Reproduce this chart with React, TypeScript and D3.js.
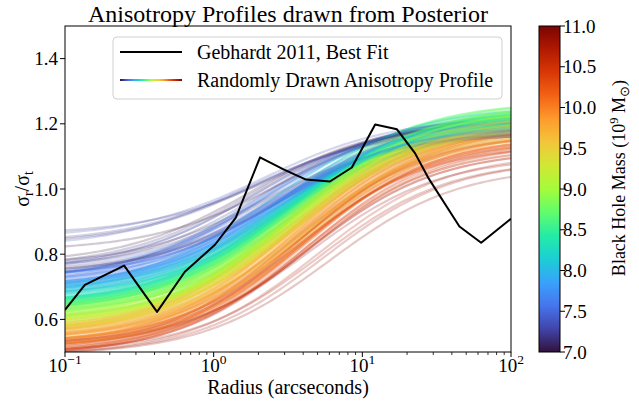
import React from "react";
import * as d3 from "d3";

const FONT = "Liberation Serif";

// Gebhardt 2011 best-fit anisotropy profile
const gebhardtRadius = [0.1, 0.136, 0.25, 0.416, 0.64, 1.02, 1.41, 2.05, 2.95, 4.18, 6.05, 8.5, 12.2, 17.1, 22.6, 27.7, 45, 63, 100];
const gebhardtRatio = [0.629, 0.706, 0.765, 0.623, 0.746, 0.829, 0.912, 1.097, 1.06, 1.029, 1.023, 1.066, 1.198, 1.183, 1.11, 1.035, 0.885, 0.835, 0.909];

// Posterior draws: black-hole mass (1e9 Msun), inner ratio, outer ratio, transition radius (arcsec)
const drawMass = [
  8.9, 7.3, 10.1, 9.4, 8.2, 10.6, 7.7, 9.0, 9.7, 8.5,
  7.1, 9.2, 10.3, 8.7, 7.9, 9.9, 8.1, 10.8, 9.5, 8.6,
  9.1, 7.5, 10.0, 8.4, 9.6, 7.2, 10.4, 8.8, 9.3, 8.0,
  10.2, 8.3, 7.6, 9.8, 8.9, 10.9, 7.4, 9.0, 8.6, 9.5,
  7.0, 9.3, 8.1, 10.5, 9.1, 7.8, 9.7, 8.7, 10.1, 8.4,
  9.6, 7.3, 8.9, 10.7, 8.2, 9.4, 7.6, 10.0, 8.5, 9.2,
  8.8, 10.3, 7.1, 9.0, 8.0, 9.9, 7.9, 10.6, 8.6, 9.4,
  7.4, 9.5, 10.2, 8.3, 9.1, 7.7, 10.8, 8.9, 9.6, 8.1,
  9.3, 8.4, 7.2, 10.4, 8.7, 9.8, 7.5, 9.0, 10.1, 8.6,
  10.0, 7.8, 9.2, 8.5, 10.6, 7.0, 9.7, 8.2, 9.4, 8.9,
  8.7, 9.5, 7.3, 10.3, 8.0, 9.1, 10.9, 7.6, 8.8, 9.9,
  9.0, 7.9, 10.5, 8.4, 9.6, 7.1, 10.2, 8.6, 9.3, 8.3,
  7.7, 9.4, 8.1, 10.7, 9.2, 7.4, 9.8, 8.9, 10.0, 8.5,
  9.1, 10.4, 7.5, 8.8, 9.7, 8.2, 10.1, 7.2, 9.5, 8.7,
  8.0, 9.3, 10.8, 7.8, 8.6, 9.9, 7.0, 9.0, 10.3, 8.4,
  7.1, 7.3, 7.2, 7.0, 7.2, 7.4,
  8.3, 9.5, 7.6, 9.0, 8.8, 10.0, 8.0, 9.3, 7.8, 8.6,
  9.8, 8.5, 9.1, 7.5, 8.9, 9.6, 8.2, 10.2, 8.7, 9.2,
  7.9, 9.4, 8.4, 9.7, 8.1, 9.0, 7.7, 8.8, 9.9, 8.5,
  9.2, 8.6, 10.1, 8.0, 9.5, 7.6, 8.9, 9.3, 8.3, 9.7,
  8.7, 7.8, 9.1, 8.4, 9.8, 8.2, 9.4, 7.5, 8.6, 10.0,
  9.0, 8.1, 9.6, 7.9, 8.8, 9.3, 8.5, 9.9, 7.7, 9.1,
  8.4, 9.5, 8.0, 9.2, 7.6, 8.9, 10.3, 8.3, 9.4, 8.7,
  9.7, 7.8, 8.6, 9.0, 8.2, 9.8, 7.5, 9.3, 8.5, 9.6,
  8.9, 9.1, 7.7, 8.3, 9.4, 8.0, 10.1, 8.7, 9.2, 7.9,
  9.5, 8.4, 9.0, 8.8, 7.6, 9.7, 8.1, 9.9, 8.6, 9.3,
];
const drawInner = [
  0.628, 0.72, 0.521, 0.548, 0.674, 0.528, 0.679, 0.615, 0.529, 0.645,
  0.755, 0.574, 0.513, 0.604, 0.698, 0.556, 0.647, 0.514, 0.545, 0.637,
  0.612, 0.71, 0.525, 0.628, 0.562, 0.75, 0.49, 0.631, 0.561, 0.685,
  0.537, 0.646, 0.712, 0.517, 0.618, 0.522, 0.705, 0.622, 0.617, 0.565,
  0.765, 0.566, 0.672, 0.49, 0.602, 0.721, 0.519, 0.639, 0.506, 0.653,
  0.572, 0.725, 0.608, 0.492, 0.67, 0.593, 0.687, 0.54, 0.625, 0.589,
  0.636, 0.503, 0.745, 0.58, 0.69, 0.55, 0.663, 0.518, 0.617, 0.573,
  0.75, 0.55, 0.517, 0.636, 0.598, 0.729, 0.49, 0.623, 0.537, 0.677,
  0.596, 0.638, 0.74, 0.492, 0.634, 0.562, 0.695, 0.608, 0.51, 0.642,
  0.545, 0.686, 0.584, 0.62, 0.513, 0.77, 0.525, 0.679, 0.553, 0.613,
  0.644, 0.555, 0.73, 0.493, 0.695, 0.617, 0.49, 0.727, 0.601, 0.536,
  0.62, 0.678, 0.505, 0.632, 0.566, 0.76, 0.492, 0.647, 0.57, 0.661,
  0.724, 0.558, 0.668, 0.49, 0.594, 0.755, 0.512, 0.628, 0.51, 0.65,
  0.605, 0.499, 0.72, 0.596, 0.554, 0.689, 0.496, 0.75, 0.548, 0.629,
  0.70, 0.572, 0.499, 0.676, 0.642, 0.56, 0.74, 0.61, 0.498, 0.657,
  0.83, 0.85, 0.86, 0.81, 0.835, 0.82,
  0.666, 0.555, 0.712, 0.59, 0.631, 0.51, 0.685, 0.584, 0.688, 0.644,
  0.547, 0.635, 0.592, 0.71, 0.623, 0.537, 0.669, 0.525, 0.616, 0.596,
  0.698, 0.563, 0.648, 0.534, 0.687, 0.585, 0.709, 0.624, 0.523, 0.652,
  0.594, 0.627, 0.521, 0.67, 0.575, 0.697, 0.613, 0.584, 0.648, 0.556,
  0.634, 0.691, 0.592, 0.638, 0.552, 0.649, 0.573, 0.728, 0.624, 0.537,
  0.61, 0.667, 0.552, 0.678, 0.631, 0.561, 0.645, 0.539, 0.696, 0.604,
  0.658, 0.555, 0.68, 0.574, 0.727, 0.593, 0.518, 0.664, 0.56, 0.636,
  0.554, 0.691, 0.632, 0.59, 0.679, 0.522, 0.725, 0.584, 0.632, 0.564,
  0.618, 0.587, 0.704, 0.646, 0.583, 0.665, 0.526, 0.632, 0.576, 0.70,
  0.57, 0.643, 0.60, 0.606, 0.727, 0.529, 0.677, 0.543, 0.624, 0.588,
];
const drawOuter = [
  1.212, 1.22, 1.182, 1.216, 1.188, 1.14, 1.188, 1.265, 1.179, 1.245,
  1.17, 1.252, 1.162, 1.244, 1.176, 1.218, 1.204, 1.12, 1.165, 1.247,
  1.206, 1.22, 1.19, 1.236, 1.192, 1.21, 1.15, 1.269, 1.179, 1.225,
  1.154, 1.252, 1.194, 1.216, 1.202, 1.10, 1.18, 1.255, 1.197, 1.215,
  1.17, 1.244, 1.214, 1.14, 1.196, 1.222, 1.204, 1.269, 1.147, 1.241,
  1.202, 1.21, 1.232, 1.13, 1.19, 1.226, 1.184, 1.225, 1.195, 1.237,
  1.214, 1.192, 1.19, 1.24, 1.18, 1.22, 1.196, 1.153, 1.197, 1.221,
  1.17, 1.23, 1.174, 1.232, 1.2, 1.218, 1.09, 1.267, 1.187, 1.229,
  1.194, 1.256, 1.19, 1.15, 1.204, 1.226, 1.18, 1.245, 1.16, 1.24,
  1.17, 1.232, 1.222, 1.24, 1.12, 1.21, 1.2, 1.253, 1.171, 1.247,
  1.214, 1.235, 1.19, 1.172, 1.185, 1.246, 1.07, 1.229, 1.199, 1.213,
  1.21, 1.236, 1.14, 1.23, 1.2, 1.21, 1.164, 1.267, 1.19, 1.237,
  1.178, 1.236, 1.22, 1.11, 1.192, 1.21, 1.196, 1.258, 1.155, 1.25,
  1.215, 1.17, 1.19, 1.244, 1.184, 1.238, 1.172, 1.225, 1.175, 1.249,
  1.19, 1.235, 1.09, 1.212, 1.202, 1.23, 1.18, 1.26, 1.127, 1.25,
  1.2, 1.22, 1.21, 1.22, 1.19, 1.18,
  1.232, 1.21, 1.214, 1.21, 1.234, 1.195, 1.195, 1.239, 1.207, 1.227,
  1.206, 1.22, 1.246, 1.17, 1.232, 1.227, 1.203, 1.189, 1.239, 1.217,
  1.216, 1.196, 1.246, 1.184, 1.214, 1.245, 1.183, 1.259, 1.193, 1.225,
  1.232, 1.222, 1.192, 1.19, 1.20, 1.209, 1.217, 1.239, 1.227, 1.199,
  1.244, 1.192, 1.246, 1.206, 1.196, 1.233, 1.191, 1.215, 1.237, 1.175,
  1.24, 1.204, 1.232, 1.186, 1.234, 1.229, 1.215, 1.213, 1.203, 1.221,
  1.236, 1.21, 1.23, 1.202, 1.194, 1.247, 1.137, 1.247, 1.211, 1.229,
  1.214, 1.192, 1.252, 1.21, 1.218, 1.211, 1.175, 1.239, 1.235, 1.207,
  1.242, 1.216, 1.218, 1.202, 1.206, 1.225, 1.157, 1.259, 1.227, 1.201,
  1.23, 1.216, 1.25, 1.214, 1.194, 1.219, 1.199, 1.205, 1.237, 1.209,
];
const drawScale = [
  3.44, 1.97, 3.9, 3.15, 3.26, 3.84, 3.2, 3.33, 4.03, 3.36,
  2.24, 2.98, 4.2, 2.99, 2.99, 2.8, 3.6, 4.4, 4.03, 3.42,
  3.5, 2.04, 3.8, 2.81, 3.85, 1.82, 4.2, 3.21, 4.03, 2.94,
  3.8, 2.58, 2.98, 3.15, 3.78, 4.5, 2.95, 3.1, 3.75, 3.68,
  2.2, 2.98, 3.46, 4.05, 3.85, 2.11, 4.38, 3.15, 3.8, 3.28,
  3.5, 2.1, 4.13, 4.2, 3.4, 2.8, 3.1, 3.42, 3.68, 3.68,
  3.38, 3.4, 2.69, 3.15, 3.08, 2.9, 3.4, 4.0, 3.75, 3.68,
  2.36, 2.98, 4.1, 2.74, 4.0, 2.05, 5.5, 3.27, 4.03, 3.02,
  3.5, 2.65, 2.74, 3.78, 3.65, 2.8, 3.0, 3.6, 4.0, 3.2,
  3.6, 2.24, 4.2, 2.88, 4.4, 1.76, 4.1, 2.81, 4.03, 3.61,
  3.32, 3.2, 2.78, 3.6, 2.9, 2.8, 6.0, 2.36, 3.89, 3.68,
  3.5, 2.31, 4.5, 3.0, 3.6, 1.79, 4.1, 3.1, 4.3, 3.19,
  2.56, 2.98, 3.3, 5.0, 3.85, 1.89, 4.38, 3.5, 4.14, 3.5,
  3.3, 3.57, 2.88, 3.04, 3.85, 2.37, 4.0, 2.17, 4.4, 3.49,
  2.8, 3.2, 5.2, 2.38, 3.59, 3.1, 2.75, 3.8, 4.0, 3.0,
  2.0, 2.2, 2.6, 2.8, 1.9, 1.6,
  3.04, 3.33, 2.6, 3.15, 3.72, 3.6, 2.58, 3.78, 2.56, 3.36,
  3.5, 3.04, 3.68, 2.16, 3.78, 3.5, 2.72, 4.1, 3.22, 3.6,
  2.72, 3.33, 3.28, 3.15, 3.17, 3.5, 2.36, 3.65, 3.4, 3.3,
  3.5, 3.1, 3.89, 2.52, 3.85, 2.48, 3.16, 3.78, 2.95, 3.6,
  3.32, 2.5, 3.68, 2.81, 3.85, 2.96, 3.22, 2.59, 3.16, 3.7,
  3.5, 2.74, 3.68, 2.45, 3.72, 3.5, 2.94, 3.78, 2.48, 3.6,
  3.12, 3.33, 2.94, 3.15, 2.73, 3.44, 3.68, 3.28, 3.4, 3.42,
  3.5, 2.51, 3.42, 3.15, 3.26, 3.5, 2.21, 3.78, 3.1, 3.6,
  3.44, 3.33, 2.69, 2.74, 3.85, 2.8, 3.4, 3.59, 3.4, 2.8,
  3.5, 2.96, 3.68, 3.04, 2.73, 3.5, 2.65, 3.9, 3.16, 3.6,
];

const yTicks = [0.6, 0.8, 1.0, 1.2, 1.4];
const xMajorTicks = [0.1, 1, 10, 100];
const xMajorExp = ["\u22121", "0", "1", "2"];
const cbarTicks = [7.0, 7.5, 8.0, 8.5, 9.0, 9.5, 10.0, 10.5, 11.0];
const turboStops = ["#30123b", "#4145ab", "#4675ed", "#39a2fc", "#1bcfd4", "#24eca6", "#61fc6c", "#a4fc3b", "#d1e834", "#f3c63a", "#fe9b2d", "#f36315", "#d93806", "#b11901", "#7a0402"];

export default function App() {
  const L = 65, R = 511, T = 26, B = 352;
  const x = d3.scaleLog().domain([0.1, 100]).range([L, R]);
  const y = d3.scaleLinear().domain([0.5, 1.5]).range([B, T]);
  const turbo = d3.piecewise(d3.interpolateRgb, turboStops);
  const cmap = (m: number) => turbo(Math.max(0, Math.min(1, (m - 7) / 4)));

  const samples = d3.range(121).map((i) => Math.pow(10, -1 + (i * 3) / 120));
  const line = d3.line<number[]>().x((d) => x(d[0])).y((d) => y(d[1]));

  const profiles = drawMass.map((m, i) => {
    const a = drawInner[i], b = drawOuter[i], r0 = drawScale[i];
    const pts = samples.map((r) => [r, a + ((b - a) * (r / r0)) / (1 + r / r0)]);
    return { m, d: line(pts) as string };
  });

  const gebPts = gebhardtRadius.map((r, i) => [r, gebhardtRatio[i]]);

  const minorTicks: number[] = [];
  [0.1, 1, 10].forEach((dec) => {
    for (let k = 2; k <= 9; k++) minorTicks.push(dec * k);
  });

  const cL = 539, cR = 560;
  const cy = d3.scaleLinear().domain([7, 11]).range([B, T]);
  const tp = { fontFamily: FONT, fill: "#000" } as const;

  return (
    <svg width={639} height={403} style={{ display: "block", position: "absolute", left: 0, top: 0 }} fontFamily={FONT}>
      <defs>
        <clipPath id="plotClip">
          <rect x={L} y={T} width={R - L} height={B - T} />
        </clipPath>
        <linearGradient id="cbarGrad" x1="0" y1="1" x2="0" y2="0">
          {turboStops.map((c, i) => (
            <stop key={i} offset={i / (turboStops.length - 1)} stopColor={c} />
          ))}
        </linearGradient>
        <linearGradient id="legGrad" x1="0" y1="0" x2="1" y2="0">
          {turboStops.map((c, i) => (
            <stop key={i} offset={i / (turboStops.length - 1)} stopColor={c} />
          ))}
        </linearGradient>
      </defs>
      <rect x={0} y={0} width={639} height={403} fill="#fff" />

      <g clipPath="url(#plotClip)">
        {profiles.map((p, i) => (
          <path key={i} d={p.d} fill="none" stroke={cmap(p.m)} strokeOpacity={0.22} strokeWidth={2.2} />
        ))}
        <path d={line(gebPts) as string} fill="none" stroke="#000" strokeWidth={2} strokeLinejoin="round" />
      </g>

      <rect x={L} y={T} width={R - L} height={B - T} fill="none" stroke="#000" strokeWidth={1} />

      {yTicks.map((t) => (
        <g key={t}>
          <line x1={L - 5} x2={L} y1={y(t)} y2={y(t)} stroke="#000" strokeWidth={1} />
          <text {...tp} x={L - 7} y={y(t) + 6.5} fontSize={19} textAnchor="end">{t.toFixed(1)}</text>
        </g>
      ))}
      {xMajorTicks.map((t, i) => (
        <g key={t}>
          <line x1={x(t)} x2={x(t)} y1={B} y2={B + 5} stroke="#000" strokeWidth={1} />
          <text {...tp} x={x(t)} y={372} fontSize={19} textAnchor="middle">
            <tspan>10</tspan>
            <tspan dy={-8} fontSize={13.5}>{xMajorExp[i]}</tspan>
          </text>
        </g>
      ))}
      {minorTicks.map((t) => (
        <line key={t} x1={x(t)} x2={x(t)} y1={B} y2={B + 3} stroke="#000" strokeWidth={0.8} />
      ))}

      <text {...tp} x={(L + R) / 2} y={394} fontSize={20} textAnchor="middle">Radius (arcseconds)</text>
      <text {...tp} transform={`translate(29, 189) rotate(-90)`} fontSize={20} textAnchor="middle">
        <tspan>σ</tspan>
        <tspan dy={4} fontSize={14}>r</tspan>
        <tspan dy={-4}>/σ</tspan>
        <tspan dy={4} fontSize={14}>t</tspan>
      </text>
      <text {...tp} x={(L + R) / 2} y={22} fontSize={24} textAnchor="middle">Anisotropy Profiles drawn from Posterior</text>

      <rect x={113} y={37} width={389} height={62} rx={4} fill="#fff" fillOpacity={0.8} stroke="#d0d0d0" strokeWidth={1} />
      <line x1={120} x2={182} y1={52} y2={52} stroke="#000" strokeWidth={2} />
      <text {...tp} x={197} y={59} fontSize={20}>Gebhardt 2011, Best Fit</text>
      <rect x={120} y={79} width={62} height={2} fill="url(#legGrad)" />
      <text {...tp} x={197} y={87} fontSize={20}>Randomly Drawn Anisotropy Profile</text>

      <rect x={cL} y={T} width={cR - cL} height={B - T} fill="url(#cbarGrad)" />
      <rect x={cL} y={T} width={cR - cL} height={B - T} fill="none" stroke="#000" strokeWidth={1} />
      {cbarTicks.map((t) => (
        <g key={t}>
          <line x1={cR} x2={cR + 5} y1={cy(t)} y2={cy(t)} stroke="#000" strokeWidth={1} />
          <text {...tp} x={cR + 3} y={cy(t) + 6.5} fontSize={19}>{t.toFixed(1)}</text>
        </g>
      ))}
      <text {...tp} transform={`translate(625, 178) rotate(-90)`} fontSize={18} textAnchor="middle">
        <tspan>Black Hole Mass (10</tspan>
        <tspan dy={-7} fontSize={12.5}>9</tspan>
        <tspan dy={7}> M</tspan>
        <tspan dy={4} fontSize={12.5}>⊙</tspan>
        <tspan dy={-4}>)</tspan>
      </text>
    </svg>
  );
}
